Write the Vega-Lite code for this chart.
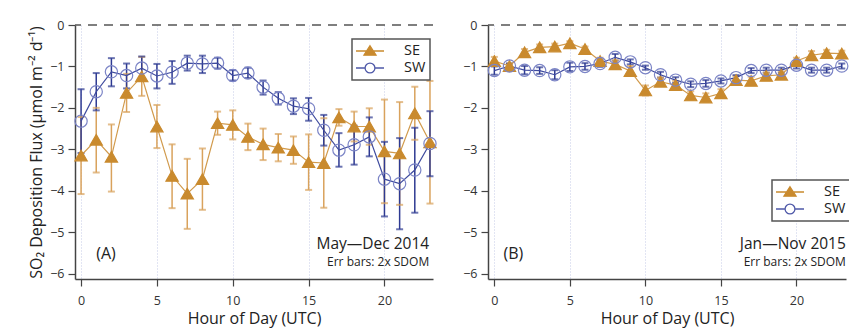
{
  "$schema": "https://vega.github.io/schema/vega-lite/v6.json",
  "background": "white",
  "padding": {"left": 28, "top": 19, "right": 0, "bottom": 3},
  "config": {
    "font": "Open Sans",
    "view": {"stroke": null},
    "axis": {"domainColor": "#444", "domainWidth": 1.5, "tickColor": "#444", "tickWidth": 1.2, "labelColor": "#333", "titleColor": "#222", "labelFontSize": 12.5, "titleFontWeight": "normal", "labelFont": "Open Sans", "titleFont": "Open Sans"},
    "legend": {"orient": "none", "strokeColor": "#555", "strokeWidth": 1.5, "fillColor": "white", "padding": 4, "labelFontSize": 14.5, "labelColor": "#222", "labelFont": "Open Sans", "symbolSize": 196, "symbolStrokeWidth": 1.3, "symbolOffset": 6, "labelOffset": 26, "rowPadding": 2}
  },
  "datasets": {
    "fluxA": [
      {"series": "SE", "hour": 0, "flux": -3.15, "lo": -4.08, "hi": -2.22},
      {"series": "SE", "hour": 1, "flux": -2.77, "lo": -3.56, "hi": -2.0},
      {"series": "SE", "hour": 2, "flux": -3.18, "lo": -4.02, "hi": -2.4},
      {"series": "SE", "hour": 3, "flux": -1.64, "lo": -2.1, "hi": -1.18},
      {"series": "SE", "hour": 4, "flux": -1.24, "lo": -1.71, "hi": -0.77},
      {"series": "SE", "hour": 5, "flux": -2.45, "lo": -2.97, "hi": -1.93},
      {"series": "SE", "hour": 6, "flux": -3.64, "lo": -4.42, "hi": -2.88},
      {"series": "SE", "hour": 7, "flux": -4.07, "lo": -4.92, "hi": -3.23},
      {"series": "SE", "hour": 8, "flux": -3.72, "lo": -4.46, "hi": -2.98},
      {"series": "SE", "hour": 9, "flux": -2.37, "lo": -2.65, "hi": -2.09},
      {"series": "SE", "hour": 10, "flux": -2.41, "lo": -2.76, "hi": -2.06},
      {"series": "SE", "hour": 11, "flux": -2.7, "lo": -3.02, "hi": -2.38},
      {"series": "SE", "hour": 12, "flux": -2.88, "lo": -3.26, "hi": -2.5},
      {"series": "SE", "hour": 13, "flux": -2.96, "lo": -3.29, "hi": -2.63},
      {"series": "SE", "hour": 14, "flux": -3.02, "lo": -3.35, "hi": -2.69},
      {"series": "SE", "hour": 15, "flux": -3.31, "lo": -3.98, "hi": -2.64},
      {"series": "SE", "hour": 16, "flux": -3.33, "lo": -4.41, "hi": -2.25},
      {"series": "SE", "hour": 17, "flux": -2.23, "lo": -2.43, "hi": -2.03},
      {"series": "SE", "hour": 18, "flux": -2.45, "lo": -2.81, "hi": -2.09},
      {"series": "SE", "hour": 19, "flux": -2.45, "lo": -2.89, "hi": -2.01},
      {"series": "SE", "hour": 20, "flux": -3.05, "lo": -4.3, "hi": -1.8},
      {"series": "SE", "hour": 21, "flux": -3.1, "lo": -4.34, "hi": -1.86},
      {"series": "SE", "hour": 22, "flux": -2.13, "lo": -2.77, "hi": -1.49},
      {"series": "SE", "hour": 23, "flux": -2.83, "lo": -4.31, "hi": -1.35},
      {"series": "SW", "hour": 0, "flux": -2.32, "lo": -3.09, "hi": -1.55},
      {"series": "SW", "hour": 1, "flux": -1.61, "lo": -2.06, "hi": -1.16},
      {"series": "SW", "hour": 2, "flux": -1.13, "lo": -1.48, "hi": -0.8},
      {"series": "SW", "hour": 3, "flux": -1.22, "lo": -1.53, "hi": -0.93},
      {"series": "SW", "hour": 4, "flux": -1.04, "lo": -1.33, "hi": -0.76},
      {"series": "SW", "hour": 5, "flux": -1.23, "lo": -1.53, "hi": -0.94},
      {"series": "SW", "hour": 6, "flux": -1.14, "lo": -1.42, "hi": -0.87},
      {"series": "SW", "hour": 7, "flux": -0.92, "lo": -1.1, "hi": -0.74},
      {"series": "SW", "hour": 8, "flux": -0.94, "lo": -1.16, "hi": -0.74},
      {"series": "SW", "hour": 9, "flux": -0.92, "lo": -1.05, "hi": -0.79},
      {"series": "SW", "hour": 10, "flux": -1.22, "lo": -1.34, "hi": -1.09},
      {"series": "SW", "hour": 11, "flux": -1.16, "lo": -1.28, "hi": -1.03},
      {"series": "SW", "hour": 12, "flux": -1.5, "lo": -1.68, "hi": -1.34},
      {"series": "SW", "hour": 13, "flux": -1.77, "lo": -1.92, "hi": -1.62},
      {"series": "SW", "hour": 14, "flux": -1.96, "lo": -2.15, "hi": -1.77},
      {"series": "SW", "hour": 15, "flux": -2.02, "lo": -2.31, "hi": -1.76},
      {"series": "SW", "hour": 16, "flux": -2.54, "lo": -2.91, "hi": -2.17},
      {"series": "SW", "hour": 17, "flux": -3.02, "lo": -3.42, "hi": -2.61},
      {"series": "SW", "hour": 18, "flux": -2.89, "lo": -3.37, "hi": -2.43},
      {"series": "SW", "hour": 19, "flux": -2.7, "lo": -3.17, "hi": -2.23},
      {"series": "SW", "hour": 20, "flux": -3.72, "lo": -4.62, "hi": -2.82},
      {"series": "SW", "hour": 21, "flux": -3.83, "lo": -4.93, "hi": -2.73},
      {"series": "SW", "hour": 22, "flux": -3.5, "lo": -4.53, "hi": -2.48},
      {"series": "SW", "hour": 23, "flux": -2.86, "lo": -3.65, "hi": -2.08}
    ],
    "fluxB": [
      {"series": "SE", "hour": 0, "flux": -0.87, "lo": -0.97, "hi": -0.77},
      {"series": "SE", "hour": 1, "flux": -0.99, "lo": -1.05, "hi": -0.93},
      {"series": "SE", "hour": 2, "flux": -0.66, "lo": -0.74, "hi": -0.58},
      {"series": "SE", "hour": 3, "flux": -0.54, "lo": -0.61, "hi": -0.47},
      {"series": "SE", "hour": 4, "flux": -0.52, "lo": -0.59, "hi": -0.45},
      {"series": "SE", "hour": 5, "flux": -0.44, "lo": -0.49, "hi": -0.39},
      {"series": "SE", "hour": 6, "flux": -0.58, "lo": -0.64, "hi": -0.52},
      {"series": "SE", "hour": 7, "flux": -0.87, "lo": -0.95, "hi": -0.79},
      {"series": "SE", "hour": 8, "flux": -0.95, "lo": -1.05, "hi": -0.85},
      {"series": "SE", "hour": 9, "flux": -1.11, "lo": -1.23, "hi": -0.99},
      {"series": "SE", "hour": 10, "flux": -1.58, "lo": -1.7, "hi": -1.46},
      {"series": "SE", "hour": 11, "flux": -1.37, "lo": -1.47, "hi": -1.27},
      {"series": "SE", "hour": 12, "flux": -1.45, "lo": -1.55, "hi": -1.35},
      {"series": "SE", "hour": 13, "flux": -1.7, "lo": -1.8, "hi": -1.6},
      {"series": "SE", "hour": 14, "flux": -1.75, "lo": -1.85, "hi": -1.65},
      {"series": "SE", "hour": 15, "flux": -1.65, "lo": -1.75, "hi": -1.55},
      {"series": "SE", "hour": 16, "flux": -1.33, "lo": -1.43, "hi": -1.23},
      {"series": "SE", "hour": 17, "flux": -1.35, "lo": -1.45, "hi": -1.25},
      {"series": "SE", "hour": 18, "flux": -1.23, "lo": -1.31, "hi": -1.15},
      {"series": "SE", "hour": 19, "flux": -1.2, "lo": -1.28, "hi": -1.12},
      {"series": "SE", "hour": 20, "flux": -0.87, "lo": -0.95, "hi": -0.79},
      {"series": "SE", "hour": 21, "flux": -0.73, "lo": -0.83, "hi": -0.63},
      {"series": "SE", "hour": 22, "flux": -0.68, "lo": -0.76, "hi": -0.6},
      {"series": "SE", "hour": 23, "flux": -0.69, "lo": -0.76, "hi": -0.62},
      {"series": "SW", "hour": 0, "flux": -1.1, "lo": -1.2, "hi": -1.0},
      {"series": "SW", "hour": 1, "flux": -0.99, "lo": -1.05, "hi": -0.93},
      {"series": "SW", "hour": 2, "flux": -1.09, "lo": -1.19, "hi": -0.99},
      {"series": "SW", "hour": 3, "flux": -1.1, "lo": -1.18, "hi": -1.02},
      {"series": "SW", "hour": 4, "flux": -1.2, "lo": -1.31, "hi": -1.09},
      {"series": "SW", "hour": 5, "flux": -1.01, "lo": -1.11, "hi": -0.91},
      {"series": "SW", "hour": 6, "flux": -1.0, "lo": -1.08, "hi": -0.92},
      {"series": "SW", "hour": 7, "flux": -0.93, "lo": -1.01, "hi": -0.85},
      {"series": "SW", "hour": 8, "flux": -0.78, "lo": -0.86, "hi": -0.7},
      {"series": "SW", "hour": 9, "flux": -0.89, "lo": -0.95, "hi": -0.83},
      {"series": "SW", "hour": 10, "flux": -1.03, "lo": -1.08, "hi": -0.98},
      {"series": "SW", "hour": 11, "flux": -1.2, "lo": -1.27, "hi": -1.13},
      {"series": "SW", "hour": 12, "flux": -1.33, "lo": -1.4, "hi": -1.26},
      {"series": "SW", "hour": 13, "flux": -1.43, "lo": -1.5, "hi": -1.36},
      {"series": "SW", "hour": 14, "flux": -1.41, "lo": -1.49, "hi": -1.33},
      {"series": "SW", "hour": 15, "flux": -1.35, "lo": -1.41, "hi": -1.29},
      {"series": "SW", "hour": 16, "flux": -1.27, "lo": -1.33, "hi": -1.21},
      {"series": "SW", "hour": 17, "flux": -1.1, "lo": -1.16, "hi": -1.04},
      {"series": "SW", "hour": 18, "flux": -1.09, "lo": -1.15, "hi": -1.03},
      {"series": "SW", "hour": 19, "flux": -1.09, "lo": -1.15, "hi": -1.03},
      {"series": "SW", "hour": 20, "flux": -0.97, "lo": -1.05, "hi": -0.89},
      {"series": "SW", "hour": 21, "flux": -1.09, "lo": -1.15, "hi": -1.03},
      {"series": "SW", "hour": 22, "flux": -1.09, "lo": -1.15, "hi": -1.03},
      {"series": "SW", "hour": 23, "flux": -0.99, "lo": -1.05, "hi": -0.93}
    ]
  },
  "spacing": 23,
  "resolve": {
    "scale": {"shape": "independent", "fill": "independent", "stroke": "independent"},
    "legend": {"shape": "independent", "fill": "independent", "stroke": "independent"}
  },
  "hconcat": [
    {
      "width": 358,
      "height": 254,
      "resolve": {"scale": {"shape": "independent", "fill": "independent", "stroke": "independent"}},
      "layer": [
        {
          "data": {"name": "fluxA"},
          "mark": {"type": "rule", "strokeWidth": 1.5},
          "encoding": {
            "x": {"field": "hour", "type": "quantitative", "scale": {"domain": [-0.4, 23.2], "nice": false, "zero": false},
              "axis": {"values": [0, 5, 10, 15, 20], "grid": true, "gridColor": "#C5CAE6", "gridDash": [1, 2], "tickSize": 7, "labelPadding": 8, "title": "Hour of Day (UTC)", "titleFontSize": 16, "titlePadding": 4}},
            "y": {"field": "lo", "type": "quantitative", "scale": {"domain": [-6.13, 0], "nice": false, "zero": false},
              "axis": {"values": [0, -1, -2, -3, -4, -5, -6], "grid": false, "tickSize": 7, "labelPadding": 4, "title": "SO₂ Deposition Flux (μmol m⁻² d⁻¹)", "titleFontSize": 16, "titlePadding": 5}},
            "y2": {"field": "hi"},
            "color": {"condition": {"test": "datum.series === 'SE'", "value": "#D9A25C"}, "value": "#2E3A92"}
          }
        },
        {
          "data": {"name": "fluxA"},
          "mark": {"type": "tick", "orient": "horizontal", "size": 7, "thickness": 2},
          "encoding": {
            "x": {"field": "hour", "type": "quantitative"},
            "y": {"field": "lo", "type": "quantitative"},
            "color": {"condition": {"test": "datum.series === 'SE'", "value": "#D9A25C"}, "value": "#2E3A92"}
          }
        },
        {
          "data": {"name": "fluxA"},
          "mark": {"type": "tick", "orient": "horizontal", "size": 7, "thickness": 2},
          "encoding": {
            "x": {"field": "hour", "type": "quantitative"},
            "y": {"field": "hi", "type": "quantitative"},
            "color": {"condition": {"test": "datum.series === 'SE'", "value": "#D9A25C"}, "value": "#2E3A92"}
          }
        },
        {
          "data": {"name": "fluxA"},
          "mark": {"type": "line", "strokeWidth": 1.2},
          "encoding": {
            "x": {"field": "hour", "type": "quantitative"},
            "y": {"field": "flux", "type": "quantitative"},
            "detail": {"field": "series"},
            "color": {"condition": {"test": "datum.series === 'SE'", "value": "#D19A4C"}, "value": "#3E4A9E"}
          }
        },
        {
          "data": {"name": "fluxA"},
          "mark": {"type": "point", "size": 150, "strokeWidth": 1.2, "opacity": 1},
          "encoding": {
            "x": {"field": "hour", "type": "quantitative"},
            "y": {"field": "flux", "type": "quantitative"},
            "shape": {"field": "series", "type": "nominal", "scale": {"domain": ["SE", "SW"], "range": ["triangle-up", "circle"]}, "legend": null},
            "fill": {"field": "series", "type": "nominal", "scale": {"domain": ["SE", "SW"], "range": ["#C98A2E", "transparent"]}, "legend": null},
            "stroke": {"field": "series", "type": "nominal", "scale": {"domain": ["SE", "SW"], "range": ["#C98A2E", "#7B84C6"]}, "legend": null}
          }
        },
        {
          "data": {"name": "fluxA"},
          "transform": [{"filter": "false"}],
          "mark": {"type": "point", "strokeWidth": 1.3, "opacity": 1},
          "encoding": {
            "x": {"field": "hour", "type": "quantitative"},
            "y": {"field": "flux", "type": "quantitative"},
            "shape": {"field": "series", "type": "nominal", "scale": {"domain": ["SE", "SW"], "range": ["M-2,0H-0.5M0.5,0H2M0,-0.75L0.86,0.6L-0.86,0.6Z", "M-2,0H-0.7M0.7,0H2M0.7,0A0.7,0.7 0 1 1 -0.7,0A0.7,0.7 0 1 1 0.7,0"]},
              "legend": {"title": null, "legendX": 277, "legendY": 14}},
            "fill": {"field": "series", "type": "nominal", "scale": {"domain": ["SE", "SW"], "range": ["#C98A2E", "transparent"]},
              "legend": {"title": null, "legendX": 277, "legendY": 14}},
            "stroke": {"field": "series", "type": "nominal", "scale": {"domain": ["SE", "SW"], "range": ["#C98A2E", "#4E58A8"]},
              "legend": {"title": null, "legendX": 277, "legendY": 14}}
          }
        },
        {
          "data": {"values": [{}]},
          "mark": {"type": "rule", "color": "#555", "strokeWidth": 1.5, "strokeDash": [9, 7]},
          "encoding": {"y": {"datum": 0, "type": "quantitative"}}
        },
        {
          "data": {"values": [{}]},
          "mark": {"type": "text", "text": "(A)", "align": "left", "baseline": "middle", "fontSize": 16, "color": "#222"},
          "encoding": {"x": {"datum": 1.0, "type": "quantitative"}, "y": {"datum": -5.52, "type": "quantitative"}}
        },
        {
          "data": {"values": [{}]},
          "mark": {"type": "text", "text": "May—Dec 2014", "align": "right", "baseline": "middle", "fontSize": 15.5, "color": "#222"},
          "encoding": {"x": {"datum": 22.95, "type": "quantitative"}, "y": {"datum": -5.28, "type": "quantitative"}}
        },
        {
          "data": {"values": [{}]},
          "mark": {"type": "text", "text": "Err bars: 2x SDOM", "align": "right", "baseline": "middle", "fontSize": 12, "color": "#222"},
          "encoding": {"x": {"datum": 22.95, "type": "quantitative"}, "y": {"datum": -5.73, "type": "quantitative"}}
        }
      ]
    },
    {
      "width": 358,
      "height": 254,
      "resolve": {"scale": {"shape": "independent", "fill": "independent", "stroke": "independent"}},
      "layer": [
        {
          "data": {"name": "fluxB"},
          "mark": {"type": "rule", "strokeWidth": 1.5},
          "encoding": {
            "x": {"field": "hour", "type": "quantitative", "scale": {"domain": [-0.42, 23.28], "nice": false, "zero": false},
              "axis": {"values": [0, 5, 10, 15, 20], "grid": true, "gridColor": "#C5CAE6", "gridDash": [1, 2], "tickSize": 7, "labelPadding": 8, "title": "Hour of Day (UTC)", "titleFontSize": 16, "titlePadding": 4}},
            "y": {"field": "lo", "type": "quantitative", "scale": {"domain": [-6.13, 0], "nice": false, "zero": false},
              "axis": {"values": [0, -1, -2, -3, -4, -5, -6], "grid": false, "tickSize": 7, "labelPadding": 4, "title": null}},
            "y2": {"field": "hi"},
            "color": {"condition": {"test": "datum.series === 'SE'", "value": "#D9A25C"}, "value": "#2E3A92"}
          }
        },
        {
          "data": {"name": "fluxB"},
          "mark": {"type": "tick", "orient": "horizontal", "size": 7, "thickness": 2},
          "encoding": {
            "x": {"field": "hour", "type": "quantitative"},
            "y": {"field": "lo", "type": "quantitative"},
            "color": {"condition": {"test": "datum.series === 'SE'", "value": "#D9A25C"}, "value": "#2E3A92"}
          }
        },
        {
          "data": {"name": "fluxB"},
          "mark": {"type": "tick", "orient": "horizontal", "size": 7, "thickness": 2},
          "encoding": {
            "x": {"field": "hour", "type": "quantitative"},
            "y": {"field": "hi", "type": "quantitative"},
            "color": {"condition": {"test": "datum.series === 'SE'", "value": "#D9A25C"}, "value": "#2E3A92"}
          }
        },
        {
          "data": {"name": "fluxB"},
          "mark": {"type": "line", "strokeWidth": 1.2},
          "encoding": {
            "x": {"field": "hour", "type": "quantitative"},
            "y": {"field": "flux", "type": "quantitative"},
            "detail": {"field": "series"},
            "color": {"condition": {"test": "datum.series === 'SE'", "value": "#D19A4C"}, "value": "#3E4A9E"}
          }
        },
        {
          "data": {"name": "fluxB"},
          "mark": {"type": "point", "size": 150, "strokeWidth": 1.2, "opacity": 1},
          "encoding": {
            "x": {"field": "hour", "type": "quantitative"},
            "y": {"field": "flux", "type": "quantitative"},
            "shape": {"field": "series", "type": "nominal", "scale": {"domain": ["SE", "SW"], "range": ["triangle-up", "circle"]}, "legend": null},
            "fill": {"field": "series", "type": "nominal", "scale": {"domain": ["SE", "SW"], "range": ["#C98A2E", "transparent"]}, "legend": null},
            "stroke": {"field": "series", "type": "nominal", "scale": {"domain": ["SE", "SW"], "range": ["#C98A2E", "#7B84C6"]}, "legend": null}
          }
        },
        {
          "data": {"name": "fluxB"},
          "transform": [{"filter": "false"}],
          "mark": {"type": "point", "strokeWidth": 1.3, "opacity": 1},
          "encoding": {
            "x": {"field": "hour", "type": "quantitative"},
            "y": {"field": "flux", "type": "quantitative"},
            "shape": {"field": "series", "type": "nominal", "scale": {"domain": ["SE", "SW"], "range": ["M-2,0H-0.5M0.5,0H2M0,-0.75L0.86,0.6L-0.86,0.6Z", "M-2,0H-0.7M0.7,0H2M0.7,0A0.7,0.7 0 1 1 -0.7,0A0.7,0.7 0 1 1 0.7,0"]},
              "legend": {"title": null, "legendX": 284, "legendY": 155}},
            "fill": {"field": "series", "type": "nominal", "scale": {"domain": ["SE", "SW"], "range": ["#C98A2E", "transparent"]},
              "legend": {"title": null, "legendX": 284, "legendY": 155}},
            "stroke": {"field": "series", "type": "nominal", "scale": {"domain": ["SE", "SW"], "range": ["#C98A2E", "#4E58A8"]},
              "legend": {"title": null, "legendX": 284, "legendY": 155}}
          }
        },
        {
          "data": {"values": [{}]},
          "mark": {"type": "rule", "color": "#555", "strokeWidth": 1.5, "strokeDash": [9, 7]},
          "encoding": {"y": {"datum": 0, "type": "quantitative"}}
        },
        {
          "data": {"values": [{}]},
          "mark": {"type": "text", "text": "(B)", "align": "left", "baseline": "middle", "fontSize": 16, "color": "#222"},
          "encoding": {"x": {"datum": 0.6, "type": "quantitative"}, "y": {"datum": -5.52, "type": "quantitative"}}
        },
        {
          "data": {"values": [{}]},
          "mark": {"type": "text", "text": "Jan—Nov 2015", "align": "right", "baseline": "middle", "fontSize": 15.5, "color": "#222"},
          "encoding": {"x": {"datum": 23.27, "type": "quantitative"}, "y": {"datum": -5.28, "type": "quantitative"}}
        },
        {
          "data": {"values": [{}]},
          "mark": {"type": "text", "text": "Err bars: 2x SDOM", "align": "right", "baseline": "middle", "fontSize": 12, "color": "#222"},
          "encoding": {"x": {"datum": 23.27, "type": "quantitative"}, "y": {"datum": -5.73, "type": "quantitative"}}
        }
      ]
    }
  ]
}
